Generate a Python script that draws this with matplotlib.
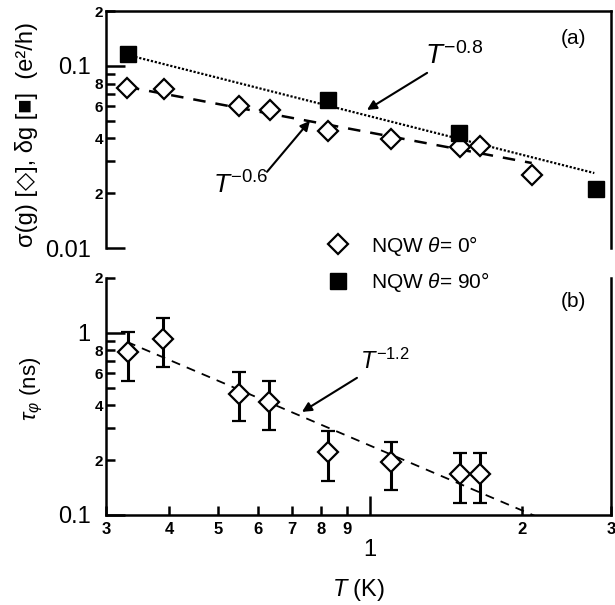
import numpy as np
import matplotlib
matplotlib.use("Agg")
import matplotlib.pyplot as plt
from matplotlib.ticker import FixedLocator, FixedFormatter
from matplotlib.lines import Line2D

plt.rcParams['font.family'] = ['Liberation Sans', 'DejaVu Sans']
plt.rcParams['mathtext.fontset'] = 'custom'
plt.rcParams['mathtext.rm'] = 'Liberation Sans'
plt.rcParams['mathtext.it'] = 'Liberation Sans:italic'
plt.rcParams['mathtext.bf'] = 'Liberation Sans:bold'

# temperatures (K)
T_diam = [0.33, 0.39, 0.55, 0.634, 0.826, 1.10, 1.51, 1.65, 2.09]
sigma_g = [0.0757, 0.0747, 0.0603, 0.0573, 0.0439, 0.0397, 0.0357, 0.0362, 0.0252]

T_sq = [0.331, 0.826, 1.50, 2.80]
delta_g = [0.116, 0.065, 0.0428, 0.0211]

# power-law guides (end points)
fit_T_08 = [0.331, 2.78]
fit_08 = [0.1148, 0.0258]
fit_T_06 = [0.33, 2.09]
fit_06 = [0.0767, 0.0293]

# dephasing time (ns)
T_tau = [0.331, 0.389, 0.550, 0.630, 0.825, 1.10, 1.51, 1.65]
tau = [0.78, 0.927, 0.462, 0.416, 0.221, 0.195, 0.168, 0.168]
tau_hi = [1.01, 1.205, 0.608, 0.547, 0.290, 0.253, 0.220, 0.220]
tau_lo = [0.547, 0.648, 0.326, 0.293, 0.154, 0.137, 0.117, 0.117]

fit_T_12 = [0.33, 2.2]
fit_12 = [0.892, 0.0946]

fig = plt.figure(figsize=(6.15, 6.05), dpi=100)
ax1 = fig.add_axes([0.1724, 0.590, 0.8211, 0.3918])
ax2 = fig.add_axes([0.1724, 0.1488, 0.8211, 0.3917])

lw_sp = 1.8
for ax in (ax1, ax2):
    ax.set_xscale('log')
    ax.set_yscale('log')
    ax.set_xlim(0.3, 3)
    for s in ax.spines.values():
        s.set_linewidth(lw_sp)
    ax.tick_params(which='both', direction='in', width=lw_sp, colors='black')
    ax.tick_params(which='major', length=14)
    ax.tick_params(which='minor', length=6.5)

ax1.spines['bottom'].set_visible(False)
ax2.spines['top'].set_visible(False)

# top panel
ax1.set_ylim(0.01, 0.2)
ax1.plot(fit_T_08, fit_08, color='black', lw=1.6, linestyle=(0, (1, 0.8)))
ax1.plot(fit_T_06, fit_06, color='black', lw=1.8, linestyle=(0, (5, 4)))
ax1.plot(T_diam, sigma_g, linestyle='none', marker='D', ms=10, mfc='white',
         mec='black', mew=1.6)
ax1.plot(T_sq, delta_g, linestyle='none', marker='s', ms=11, mfc='black',
         mec='black')

ax1.xaxis.set_major_locator(FixedLocator([]))
ax1.xaxis.set_minor_locator(FixedLocator([]))
ax1.yaxis.set_major_locator(FixedLocator([0.01, 0.1]))
ax1.yaxis.set_major_formatter(FixedFormatter(['0.01', '0.1']))
ax1.yaxis.set_minor_locator(FixedLocator([0.02, 0.03, 0.04, 0.05, 0.06, 0.07,
                                          0.08, 0.09, 0.2]))
ax1.yaxis.set_minor_formatter(FixedFormatter(['2', '', '4', '', '6', '', '8',
                                              '', '2']))
ax1.tick_params(axis='y', which='major', labelsize=17, pad=11)
ax1.tick_params(axis='y', which='minor', labelsize=11, pad=2)

ax1.set_ylabel("σ(g) [◇], δg [■]  (e²/h)", fontsize=17)
ax1.yaxis.set_label_coords(-0.135, 0.48)

ax1.text(0.925, 0.886, '(a)', transform=ax1.transAxes, fontsize=15,
         ha='center', va='center')

arrow = dict(arrowstyle='-|>', color='black', lw=1.5, mutation_scale=14,
             shrinkA=0, shrinkB=0)
ax1.text(1.47, 0.113, r"$T^{-0.8}$", fontsize=20, ha='center', va='center')
ax1.annotate("", xy=(0.986, 0.0573), xytext=(1.297, 0.0915), arrowprops=arrow)
ax1.text(0.555, 0.0222, r"$T^{-0.6}$", fontsize=19, ha='center', va='center')
ax1.annotate("", xy=(0.76, 0.0499), xytext=(0.625, 0.0262), arrowprops=arrow)

handles = [Line2D([], [], linestyle='none', marker='D', ms=10, mfc='white',
                  mec='black', mew=1.6),
           Line2D([], [], linestyle='none', marker='s', ms=11, mfc='black',
                  mec='black')]
labels = [r"NQW $\theta$= 0°", r"NQW $\theta$= 90°"]
fig.legend(handles, labels, loc='center left', bbox_to_anchor=(0.515, 0.564),
           frameon=False, fontsize=15, handlelength=1.0, handletextpad=1.1,
           labelspacing=0.6, borderpad=0)

# bottom panel
ax2.set_ylim(0.1, 2)
ax2.plot(fit_T_12, fit_12, color='black', lw=1.3, linestyle=(0, (5, 4)))
yerr = [np.array(tau) - np.array(tau_lo), np.array(tau_hi) - np.array(tau)]
ax2.errorbar(T_tau, tau, yerr=yerr, linestyle='none', marker='D', ms=10,
             mfc='white', mec='black', mew=1.6, ecolor='black', elinewidth=2.2,
             capsize=5, capthick=2.2)

ax2.xaxis.set_major_locator(FixedLocator([1]))
ax2.xaxis.set_major_formatter(FixedFormatter(['1']))
ax2.xaxis.set_minor_locator(FixedLocator([0.3, 0.4, 0.5, 0.6, 0.7, 0.8, 0.9,
                                          2, 3]))
ax2.xaxis.set_minor_formatter(FixedFormatter(['3', '4', '5', '6', '7', '8',
                                              '9', '2', '3']))
ax2.tick_params(axis='x', which='major', labelsize=17, pad=17)
ax2.tick_params(axis='x', which='minor', labelsize=12, pad=5)

ax2.yaxis.set_major_locator(FixedLocator([0.1, 1]))
ax2.yaxis.set_major_formatter(FixedFormatter(['0.1', '1']))
ax2.yaxis.set_minor_locator(FixedLocator([0.2, 0.3, 0.4, 0.5, 0.6, 0.7, 0.8,
                                          0.9, 2]))
ax2.yaxis.set_minor_formatter(FixedFormatter(['2', '', '4', '', '6', '', '8',
                                              '', '2']))
ax2.tick_params(axis='y', which='major', labelsize=17, pad=11)
ax2.tick_params(axis='y', which='minor', labelsize=11, pad=2)
for lab in ax1.yaxis.get_minorticklabels() + ax2.yaxis.get_minorticklabels() \
        + ax2.xaxis.get_minorticklabels():
    lab.set_fontweight('bold')

ax2.set_ylabel(r"$\tau_\varphi$ (ns)", fontsize=16)
ax2.yaxis.set_label_coords(-0.121, 0.53)
ax2.set_xlabel(r"$T$ (K)", fontsize=17)
ax2.xaxis.set_label_coords(0.5, -0.262)

ax2.text(0.925, 0.899, '(b)', transform=ax2.transAxes, fontsize=15,
         ha='center', va='center')
ax2.text(1.07, 0.70, r"$T^{-1.2}$", fontsize=17, ha='center', va='center')
ax2.annotate("", xy=(0.733, 0.368), xytext=(0.942, 0.566), arrowprops=arrow)

fig.savefig('out.png', dpi=100)
